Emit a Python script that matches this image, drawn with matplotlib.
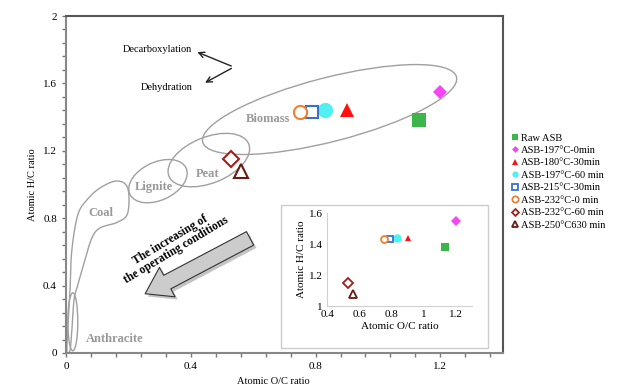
import numpy as np
import matplotlib
matplotlib.use('Agg')
import matplotlib.pyplot as plt
from matplotlib.patches import Ellipse, Rectangle, FancyArrowPatch, Polygon
from matplotlib.transforms import ScaledTranslation
from matplotlib.ticker import MultipleLocator, FuncFormatter
from matplotlib.lines import Line2D
import matplotlib.patheffects as pe

plt.rcParams['font.family'] = ['Liberation Serif', 'DejaVu Serif']

# ---- data ----
labels = ['Raw ASB', 'ASB-197°C-0min', 'ASB-180°C-30min', 'ASB-197°C-60 min',
          'ASB-215°C-30min', 'ASB-232°C-0 min', 'ASB-232°C-60 min',
          'ASB-250°C630 min']
oc_ratio = [1.13, 1.20, 0.90, 0.83, 0.79, 0.75, 0.53, 0.56]
hc_ratio = [1.38, 1.55, 1.44, 1.44, 1.43, 1.43, 1.15, 1.08]

# marker, colour, filled, main size, inset size
styles = [
    ('s', '#3cb54a', True, 10, 6),
    ('D', '#f545f5', True, 7.5, 5.5),
    ('^', '#ff1010', True, 10, 5),
    ('o', '#4ff0f0', True, 11, 6),
    ('s', '#3a6fd0', False, 8.5, 5),
    ('o', '#f08030', False, 9.5, 5),
    ('D', '#a0201a', False, 8, 5),
    ('^', '#6b1a10', False, 10, 6),
]

fig = plt.figure(figsize=(6.34, 3.86), dpi=100)
ax = fig.add_axes([0.104, 0.0855, 0.689, 0.873])
ax.set_xlim(0, 1.4)
ax.set_ylim(0, 2)
ax.xaxis.set_major_locator(MultipleLocator(0.4))
ax.yaxis.set_major_locator(MultipleLocator(0.4))
ax.xaxis.set_minor_locator(MultipleLocator(0.08))
ax.yaxis.set_minor_locator(MultipleLocator(0.08))
fmt = FuncFormatter(lambda v, p: '%g' % round(v, 2))
ax.xaxis.set_major_formatter(fmt)
ax.yaxis.set_major_formatter(fmt)
ax.tick_params(which='both', direction='out', length=3, width=1, colors='#777777',
               labelcolor='black', labelsize=8)
for s in ['left', 'bottom']:
    ax.spines[s].set_color('#888888')
    ax.spines[s].set_linewidth(1.5)
for s in ['top', 'right']:
    ax.spines[s].set_color('#555555')
    ax.spines[s].set_linewidth(1.5)
ax.set_xlabel('Atomic O/C ratio', fontsize=7.5)
ax.set_ylabel('Atomic H/C ratio', fontsize=7.5)
ax.xaxis.set_label_coords(0.474, -0.072)
ax.yaxis.set_label_coords(-0.066, 0.5)

# ---- fuel regions ----
ell_col = '#a0a0a0'


def region(cx, cy, w_in, h_in, ang):
    tr = fig.dpi_scale_trans + ScaledTranslation(cx, cy, ax.transData)
    ax.add_patch(Ellipse((0, 0), w_in, h_in, angle=ang, transform=tr,
                         fill=False, edgecolor=ell_col, lw=1, zorder=2))


region(0.845, 1.445, 2.62, 0.64, 14.4)    # biomass
region(0.458, 1.145, 0.86, 0.46, 22)      # peat
region(0.295, 1.020, 0.62, 0.38, 25)      # lignite
region(0.022, 0.185, 0.10, 0.58, 0)       # anthracite

coal_x = [0.003, 0.013, 0.019, 0.038, 0.067, 0.109, 0.163, 0.198, 0.198, 0.166,
          0.109, 0.083, 0.061, 0.038, 0.026, 0.019, 0.013]
coal_y = [0.018, 0.374, 0.611, 0.819, 0.908, 0.979, 1.021, 0.979, 0.831, 0.777,
          0.742, 0.682, 0.552, 0.404, 0.315, 0.136, 0.018]


def smooth_closed(xs, ys, n=20):
    p = np.column_stack([xs, ys])
    m = len(p)
    out = []
    for i in range(m):
        p0, p1, p2, p3 = p[i - 1], p[i], p[(i + 1) % m], p[(i + 2) % m]
        for t in np.linspace(0, 1, n, endpoint=False):
            t2, t3 = t * t, t * t * t
            out.append(0.5 * ((2 * p1) + (-p0 + p2) * t +
                              (2 * p0 - 5 * p1 + 4 * p2 - p3) * t2 +
                              (-p0 + 3 * p1 - 3 * p2 + p3) * t3))
    return np.array(out)


ax.add_patch(Polygon(smooth_closed(coal_x, coal_y), closed=True, fill=False,
                     edgecolor=ell_col, lw=1, zorder=2))

reg_kw = dict(color='#999999', fontweight='bold', fontsize=9, ha='center', va='center')
ax.text(0.646, 1.39, 'Biomass', **reg_kw)
ax.text(0.455, 1.06, 'Peat', **reg_kw)
ax.text(0.282, 0.985, 'Lignite', **reg_kw)
ax.text(0.112, 0.83, 'Coal', **reg_kw)
ax.text(0.155, 0.083, 'Anthracite', **reg_kw)

# reaction pathways
ax.annotate('', xy=(0.413, 1.792), xytext=(0.538, 1.697),
            arrowprops=dict(arrowstyle='->', color='#222222', lw=1))
ax.annotate('', xy=(0.438, 1.596), xytext=(0.538, 1.697),
            arrowprops=dict(arrowstyle='->', color='#222222', lw=1))
ax.text(0.403, 1.80, 'Decarboxylation', fontsize=7.5, ha='right', va='center')
ax.text(0.406, 1.573, 'Dehydration', fontsize=7.5, ha='right', va='center')

# big arrow
arr = FancyArrowPatch((0.598, 0.688), (0.246, 0.344),
                      arrowstyle='simple,head_length=0.9,head_width=1.2,tail_width=0.55',
                      mutation_scale=20, facecolor='#cccccc', edgecolor='#333333',
                      lw=0.8, zorder=3)
arr.set_path_effects([pe.withSimplePatchShadow(offset=(2, -2), alpha=0.3)])
ax.add_patch(arr)
ax.text(0.344, 0.64, 'The increasing of\nthe operating conditions', rotation=31,
        ha='center', va='center', fontweight='bold', fontsize=8.3, linespacing=1.0)

# ---- samples in main plot ----
handles = []
for x, y, lab, (mk, col, filled, ms, _) in zip(oc_ratio, hc_ratio, labels, styles):
    ax.plot([x], [y], linestyle='none', marker=mk, markersize=ms,
            markerfacecolor=col if filled else 'white', markeredgecolor=col,
            markeredgewidth=0 if filled else 1.5, zorder=5)
    handles.append(Line2D([], [], linestyle='none', marker=mk,
                          markersize=4.5 if mk != 'D' else 3.5,
                          markerfacecolor=col if filled else 'white',
                          markeredgecolor=col, markeredgewidth=0 if filled else 1.3,
                          label=lab))

fig.legend(handles=handles, loc='upper left', bbox_to_anchor=(0.799, 0.668),
           frameon=False, fontsize=7.5, handlelength=0.7, handletextpad=0.15,
           labelspacing=0.3, borderpad=0)

# ---- inset ----
fig.patches.append(Rectangle((0.443, 0.098), 0.326, 0.370, transform=fig.transFigure,
                             facecolor='white', edgecolor='#cccccc', lw=1, zorder=4))
ins = fig.add_axes([0.516, 0.207, 0.229, 0.241], zorder=5)
ins.set_xlim(0.4, 1.3)
ins.set_ylim(1, 1.6)
ins.set_xticks([0.4, 0.6, 0.8, 1.0, 1.2])
ins.set_yticks([1.0, 1.2, 1.4, 1.6])
ins.xaxis.set_major_formatter(fmt)
ins.yaxis.set_major_formatter(fmt)
ins.tick_params(length=0, labelsize=8, pad=3)
for s in ['top', 'right']:
    ins.spines[s].set_visible(False)
for s in ['left', 'bottom']:
    ins.spines[s].set_color('#d0d0d0')
ins.set_xlabel('Atomic O/C ratio', fontsize=8, labelpad=2)
ins.set_ylabel('Atomic H/C ratio', fontsize=8, labelpad=2)
for x, y, (mk, col, filled, _, ms) in zip(oc_ratio, hc_ratio, styles):
    ins.plot([x], [y], linestyle='none', marker=mk, markersize=ms,
             markerfacecolor=col if filled else 'white', markeredgecolor=col,
             markeredgewidth=0 if filled else 1.3, clip_on=False)

fig.savefig('out.png', dpi=100, facecolor='white')
